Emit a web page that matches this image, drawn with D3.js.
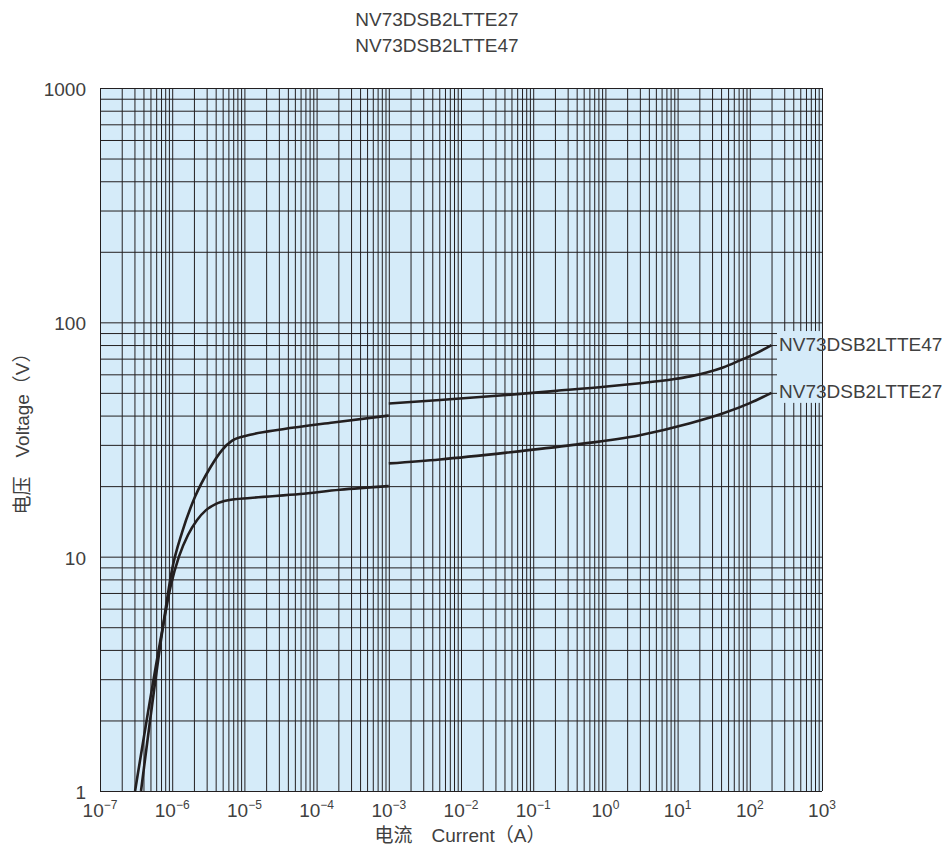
<!DOCTYPE html>
<html>
    <head>
        <meta charset="utf-8">
        <title>NV73DSB2LTTE27 / NV73DSB2LTTE47</title>
        <style>
            body { margin: 0; background: #fff; }
            text {
                font-family: 'Liberation Sans', 'Noto Sans CJK SC', sans-serif;
                fill: #404040;
            }
        </style>
        <script src="https://d3js.org/d3.v7.min.js"></script>
        <script>
            var titles = ["NV73DSB2LTTE27", "NV73DSB2LTTE47"];
            var xDecades = [-7, -6, -5, -4, -3, -2, -1, 0, 1, 2, 3];
            var yTicks = [1, 10, 100, 1000];

            // current (A) / voltage (V), two pieces each
            var i47a = [3.7e-7, 7.5e-7, 9.93e-7, 1.37e-6, 2.07e-6, 3.34e-6, 4.9e-6, 6.7e-6, 1.2e-5, 3.4e-5, 1.7e-4, 1e-3];
            var v47a = [1, 5.1, 8.78, 12.7, 18.0, 23.9, 28.5, 31.2, 33.1, 35.0, 37.4, 40];
            var i47b = [1e-3, 5.1e-3, 0.043, 0.21, 1.04, 3.01, 8.7, 14.9, 25.3, 42.6, 73, 122, 200];
            var v47b = [45, 46.6, 49, 51, 53.2, 55.0, 57.2, 58.8, 61.1, 64.2, 68.8, 73.7, 80];

            var i27a = [3.06e-7, 7.5e-7, 9.6e-7, 1.24e-6, 1.66e-6, 2.2e-6, 2.94e-6, 4.05e-6, 5.93e-6, 1.2e-5, 5.9e-5, 2.1e-4, 1e-3];
            var v27a = [1, 5.1, 7.57, 10, 12.4, 14.3, 15.8, 16.8, 17.4, 17.8, 18.5, 19.3, 20];
            var i27b = [1e-3, 5.1e-3, 0.043, 0.36, 3.0, 14.9, 43, 100, 200];
            var v27b = [25, 26, 27.8, 30, 33, 37.1, 40.9, 45.2, 50];

            var seriesNames = ["NV73DSB2LTTE47", "NV73DSB2LTTE27"];

            function zip(a, b) {
                return a.map((d, i) => [d, b[i]]);
            }

            function run() {
                var left = 100, right = 822, top = 88, bottom = 791;
                var bg = "#d5ebf9";
                var ink = "#231f20";

                var svg = d3.select("#chart").append("svg")
                    .attr("width", 949)
                    .attr("height", 847);

                var x = d3.scaleLog().domain([1e-7, 1e3]).range([left, right]);
                var y = d3.scaleLog().domain([1, 1000]).range([bottom, top]);

                svg.append("rect")
                    .attr("x", left).attr("y", top)
                    .attr("width", right - left).attr("height", bottom - top)
                    .attr("fill", bg);

                // grid values 1..9 per decade
                var gx = [];
                for (var d = -7; d < 3; d++) {
                    for (var k = 1; k < 10; k++) gx.push(k * Math.pow(10, d));
                }
                gx.push(1e3);
                var gy = [];
                for (var d = 0; d < 3; d++) {
                    for (var k = 1; k < 10; k++) gy.push(k * Math.pow(10, d));
                }
                gy.push(1000);

                var gridX = svg.append("g")
                    .attr("transform", "translate(0," + bottom + ")")
                    .call(d3.axisBottom(x).tickValues(gx).tickSize(-(bottom - top)).tickFormat(""));
                var gridY = svg.append("g")
                    .attr("transform", "translate(" + left + ",0)")
                    .call(d3.axisLeft(y).tickValues(gy).tickSize(-(right - left)).tickFormat(""));
                [gridX, gridY].forEach(g => {
                    g.select(".domain").remove();
                    g.selectAll("line").attr("stroke", ink).attr("stroke-width", 1);
                });

                // label background box hides grid behind the series names
                var labY47 = y(v47b[v47b.length - 1]);
                var labY27 = y(v27b[v27b.length - 1]);
                svg.append("rect")
                    .attr("x", 777).attr("y", labY47 - 14)
                    .attr("width", right - 777).attr("height", labY27 + 10 - (labY47 - 14))
                    .attr("fill", bg);

                var line = d3.line()
                    .x(d => x(d[0]))
                    .y(d => y(d[1]))
                    .curve(d3.curveMonotoneX);

                [zip(i47a, v47a), zip(i47b, v47b), zip(i27a, v27a), zip(i27b, v27b)].forEach(s => {
                    svg.append("path")
                        .attr("d", line(s))
                        .attr("fill", "none")
                        .attr("stroke", ink)
                        .attr("stroke-width", 2.6);
                });

                svg.append("text").attr("x", 779).attr("y", labY47 + 6)
                    .attr("font-size", 19).text(seriesNames[0]);
                svg.append("text").attr("x", 779).attr("y", labY27 + 5)
                    .attr("font-size", 19).text(seriesNames[1]);

                // titles
                for (const i in titles) {
                    svg.append("text")
                        .attr("x", 437)
                        .attr("y", 26 + i * 26)
                        .attr("text-anchor", "middle")
                        .attr("font-size", 19)
                        .text(titles[i]);
                }

                // y tick labels
                for (const v of yTicks) {
                    svg.append("text")
                        .attr("x", 86)
                        .attr("y", y(v) + 8)
                        .attr("text-anchor", "end")
                        .attr("font-size", 19)
                        .text(v);
                }

                // x tick labels, 10 with superscript
                for (const e of xDecades) {
                    var t = svg.append("text")
                        .attr("x", x(Math.pow(10, e)))
                        .attr("y", 817)
                        .attr("text-anchor", "middle")
                        .attr("font-size", 19);
                    t.append("tspan").text("10");
                    t.append("tspan")
                        .attr("font-size", 12)
                        .attr("dy", -8)
                        .text(e < 0 ? "\u2212" + (-e) : e);
                }

                svg.append("text")
                    .attr("x", 460).attr("y", 842)
                    .attr("text-anchor", "middle")
                    .attr("font-size", 19)
                    .text("电流\u3000Current（A）");

                svg.append("text")
                    .attr("transform", "translate(29,429) rotate(-90)")
                    .attr("text-anchor", "middle")
                    .attr("font-size", 19)
                    .text("电压\u3000Voltage（V）");
            }
        </script>
    </head>
    <body onload="run()">
        <div id="chart"></div>
    </body>
</html>
